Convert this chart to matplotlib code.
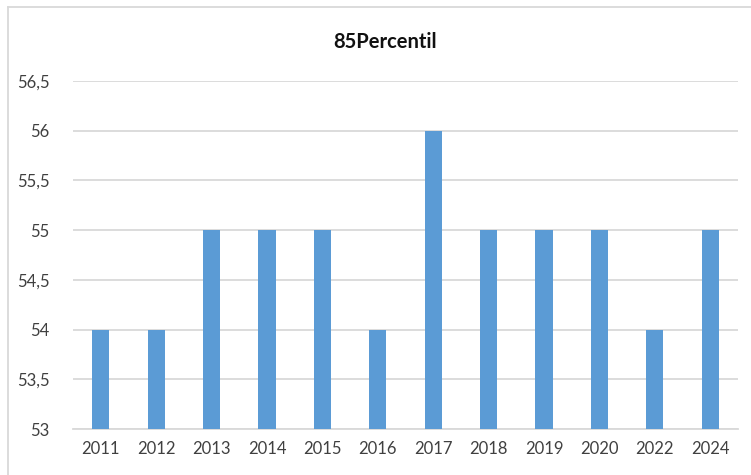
import matplotlib
matplotlib.use("Agg")
import matplotlib.pyplot as plt
from matplotlib.lines import Line2D
from matplotlib.ticker import FuncFormatter

years = ["2011", "2012", "2013", "2014", "2015", "2016", "2017", "2018", "2019", "2020", "2022", "2024"]
values = [54, 54, 55, 55, 55, 54, 56, 55, 55, 55, 54, 55]
y_ticks = [53, 53.5, 54, 54.5, 55, 55.5, 56, 56.5]

plt.rcParams['font.family'] = ['Lato', 'DejaVu Sans']

fig = plt.figure(figsize=(7.51, 4.75), dpi=100)
W, H = 751, 475
ax = fig.add_axes([73 / W, 1 - 429 / H, (738 - 73) / W, (429 - 81) / H])

x = range(len(years))
ax.bar(x, [v - 53 for v in values], bottom=53, width=0.31, color="#5B9BD5", zorder=3)

ax.set_xlim(-0.5, len(years) - 0.5)
ax.set_ylim(53, 56.5)
ax.set_yticks(y_ticks)
ax.yaxis.set_major_formatter(FuncFormatter(lambda v, p: ("%g" % v).replace(".", ",")))
ax.set_xticks(list(x))
ax.set_xticklabels(years)
ax.grid(axis="y", color="#D9D9D9", linewidth=1.3, zorder=0)
for s in ["top", "right", "left"]:
    ax.spines[s].set_visible(False)
ax.spines["bottom"].set_color("#D9D9D9")
ax.spines["bottom"].set_linewidth(1.3)
ax.tick_params(length=0, labelsize=12, colors="#404040")
ax.tick_params(axis="y", pad=17)
ax.tick_params(axis="x", pad=9)

fig.text(385 / W, 1 - 42 / H, "85Percentil", ha="center", va="center",
         fontsize=14.5, fontweight="bold", color="#111111")

# chart frame (left and top edges visible in the crop)
fig.add_artist(Line2D([8 / W, 8 / W], [0, 1 - 7 / H], transform=fig.transFigure, color="#D9D9D9", linewidth=1.3))
fig.add_artist(Line2D([8 / W, 1], [1 - 7 / H, 1 - 7 / H], transform=fig.transFigure, color="#D9D9D9", linewidth=1.3))

fig.savefig("out.png", dpi=100)
